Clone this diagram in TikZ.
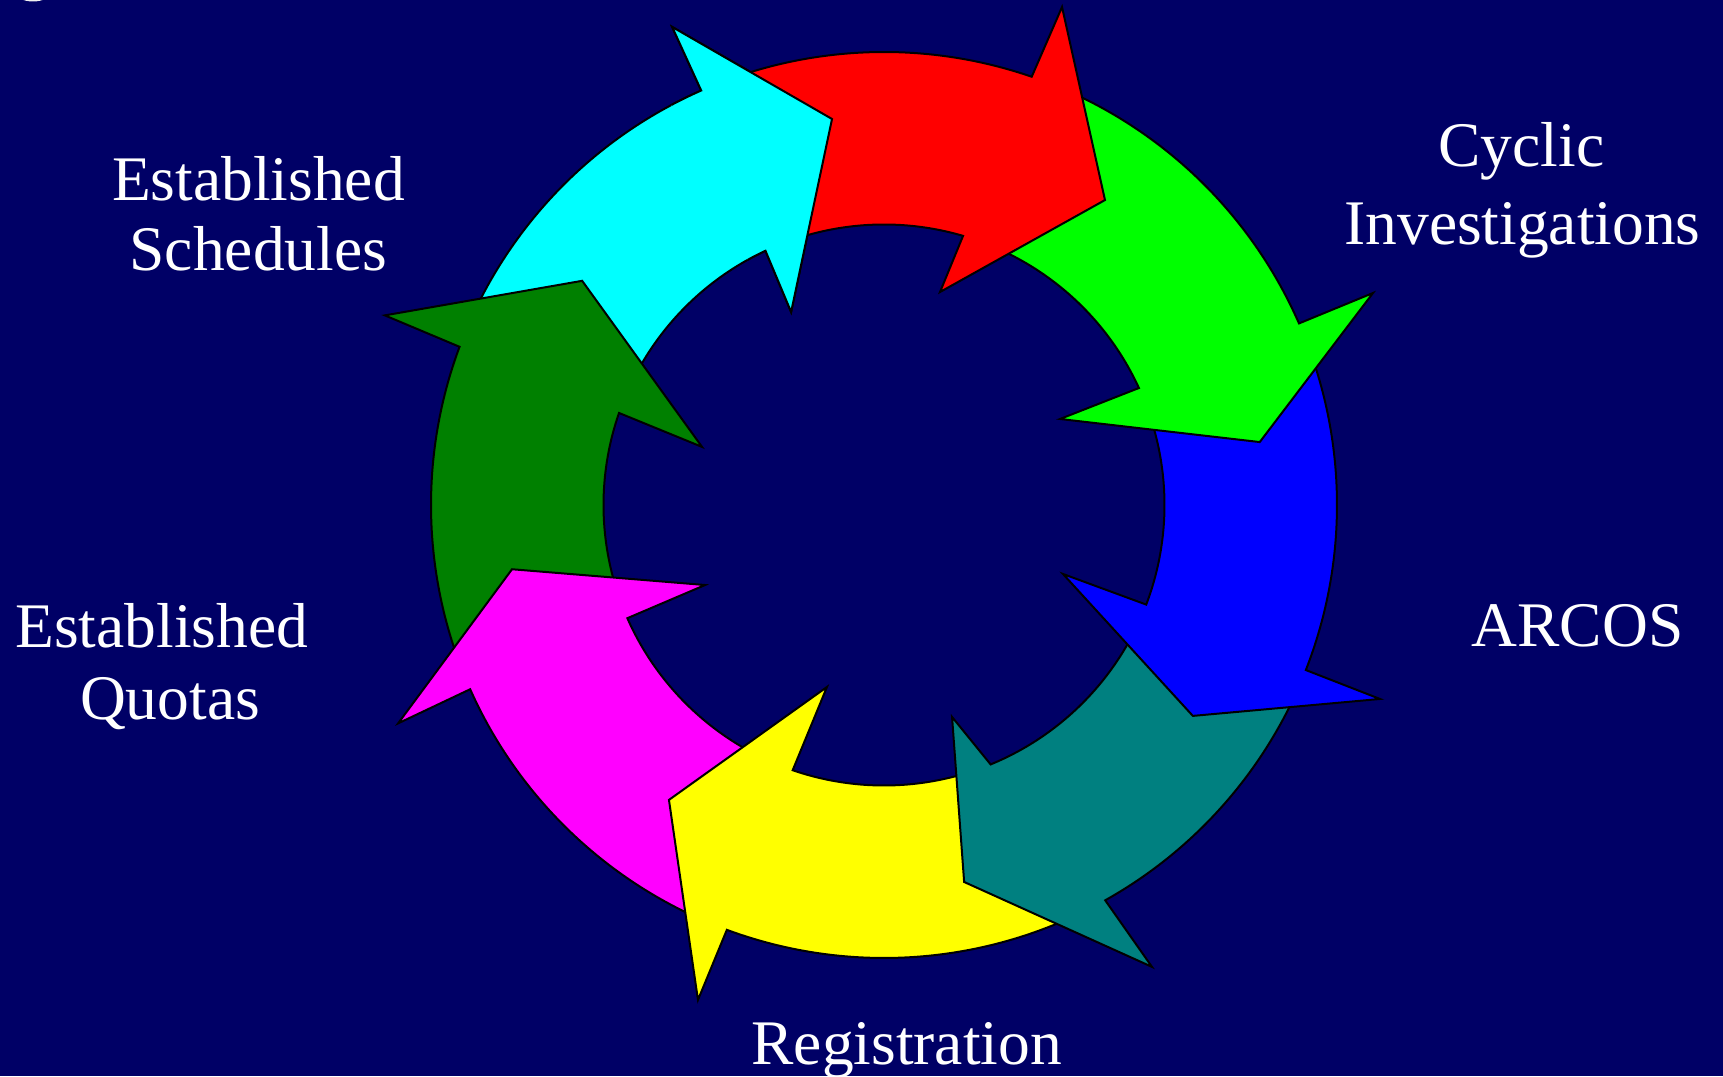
\documentclass[tikz,border=0pt]{standalone}
\usepackage{fontspec}
\setmainfont{Liberation Serif}
\definecolor{bgNavy}{RGB}{0,0,102}
\definecolor{arrCyan}{RGB}{0,255,255}
\definecolor{arrRed}{RGB}{255,0,0}
\definecolor{arrGreen}{RGB}{0,255,0}
\definecolor{arrBlue}{RGB}{0,0,255}
\definecolor{arrTeal}{RGB}{0,128,128}
\definecolor{arrYellow}{RGB}{255,255,0}
\definecolor{arrMagenta}{RGB}{255,0,255}
\definecolor{arrDkGreen}{RGB}{0,128,0}
\tikzset{
  ringarrow/.style={draw=black, line width=2pt, line join=miter},
  lbl/.style={text=white, font=\fontsize{63.5}{76}\selectfont, inner sep=0pt, anchor=base}
}
\begin{document}
\begin{tikzpicture}[x=1pt,y=1pt]
\useasboundingbox (0,0) rectangle (1723,1076);
\fill[bgNavy] (0,0) rectangle (1723,1076);
\fill[white!88!gray] (33,1084) ellipse[x radius=18, y radius=9.5];

\begin{scope}[shift={(884,571)}]
% cyan (drawn first)
\filldraw[ringarrow, fill=arrCyan] (159.56:453) arc[start angle=159.56, end angle=113.8, radius=453] -- (113.9:522.9) -- (97.67:389.5) -- (115.7:214.2) -- (115.0:280.5) arc[start angle=115.0, end angle=160.85, radius=280.5] -- cycle;
% dark green
\filldraw[ringarrow, fill=arrDkGreen] (-156.0:453) arc[start angle=-156.0, end angle=-200.44, radius=453] -- (-200.8:534) -- (-216.6:376) -- (-197.7:191) -- (-199.15:280.5) arc[start angle=-199.15, end angle=-156.2, radius=280.5] -- cycle;
% magenta
\filldraw[ringarrow, fill=arrMagenta] (-110.3:453) arc[start angle=-110.3, end angle=-156.0, radius=453] -- (-155.8:532.7) -- (-170.2:377.5) -- (-155.9:196) -- (-156.2:280.5) arc[start angle=-156.2, end angle=-109.0, radius=280.5] -- cycle;
% yellow
\filldraw[ringarrow, fill=arrYellow] (-60.77:453) arc[start angle=-60.77, end angle=-110.3, radius=453] -- (-110.6:528.8) -- (-126.1:365) -- (-107.4:190.7) -- (-109.0:280.5) arc[start angle=-109.0, end angle=-67.66, radius=280.5] -- cycle;
% teal
\filldraw[ringarrow, fill=arrTeal] (-21.37:453) arc[start angle=-21.37, end angle=-60.77, radius=453] -- (-59.88:534) -- (-78.0:385.4) -- (-72.2:222.6) -- (-67.66:280.5) arc[start angle=-67.66, end angle=-20.8, radius=280.5] -- cycle;
% blue
\filldraw[ringarrow, fill=arrBlue] (23.63:453) arc[start angle=23.63, end angle=-21.37, radius=453] -- (-21.36:532.6) -- (-34.33:374) -- (-21.08:191.8) -- (-20.8:280.5) arc[start angle=-20.8, end angle=24.65, radius=280.5] -- cycle;
% green
\filldraw[ringarrow, fill=arrGreen] (70.97:453) arc[start angle=70.97, end angle=23.63, radius=453] -- (23.44:533) -- (9.51:381) -- (26.04:195.9) -- (24.65:280.5) arc[start angle=24.65, end angle=73.63, radius=280.5] -- cycle;
% red
\filldraw[ringarrow, fill=arrRed] (113.8:453) arc[start angle=113.8, end angle=70.97, radius=453] -- (70.33:528.9) -- (54.07:376.6) -- (75.27:220.2) -- (73.63:280.5) arc[start angle=73.63, end angle=115.0, radius=280.5] -- cycle;
% cyan head on top of red tail
\fill[arrCyan] (118:453) arc[start angle=118, end angle=113.8, radius=453] -- (113.9:522.9) -- (97.67:389.5) -- (115.7:214.2) -- (115.0:280.5) arc[start angle=115.0, end angle=119, radius=280.5] -- cycle;
\draw[ringarrow] (118:453) arc[start angle=118, end angle=113.8, radius=453] -- (113.9:522.9) -- (97.67:389.5) -- (115.7:214.2) -- (115.0:280.5) arc[start angle=115.0, end angle=119, radius=280.5];
\end{scope}

\node[lbl] (schedA) at (258.4,875.3) {Established};
\node[lbl] (schedB) at (258.3,805.5) {Schedules};
\node[lbl] (cycA) at (1521.5,909.3) {Cyclic};
\node[lbl] (cycB) at (1522.5,831) {Investigations};
\node[lbl] (arcos) at (1577.5,429.3) {ARCOS};
\node[lbl] (quotA) at (161.7,428) {Established};
\node[lbl] (quotB) at (170,356) {Quotas};
\node[lbl] (regis) at (906.7,12) {Registration};
\end{tikzpicture}
\end{document}
